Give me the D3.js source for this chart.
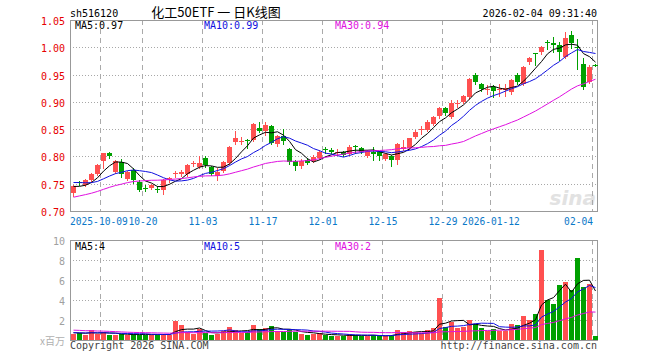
<!DOCTYPE html>
<html><head><meta charset="utf-8">
<script src="https://cdn.jsdelivr.net/npm/d3@7"></script>
<style>html,body{margin:0;padding:0;background:#fff;}svg{display:block;}</style>
</head><body><svg id="c" width="660" height="360"></svg>
<script>
// ---------- data ----------
const dates = [
"2025-09-24","2025-09-25","2025-09-26","2025-09-29","2025-09-30",
"2025-10-09","2025-10-10","2025-10-13","2025-10-14","2025-10-15","2025-10-16","2025-10-17",
"2025-10-20","2025-10-21","2025-10-22","2025-10-23","2025-10-24","2025-10-27","2025-10-28","2025-10-29","2025-10-30","2025-10-31",
"2025-11-03","2025-11-04","2025-11-05","2025-11-06","2025-11-07","2025-11-10","2025-11-11","2025-11-12","2025-11-13","2025-11-14",
"2025-11-17","2025-11-18","2025-11-19","2025-11-20","2025-11-21","2025-11-24","2025-11-25","2025-11-26","2025-11-27","2025-11-28",
"2025-12-01","2025-12-02","2025-12-03","2025-12-04","2025-12-05","2025-12-08","2025-12-09","2025-12-10","2025-12-11","2025-12-12",
"2025-12-15","2025-12-16","2025-12-17","2025-12-18","2025-12-19","2025-12-22","2025-12-23","2025-12-24","2025-12-25","2025-12-26",
"2025-12-29","2025-12-30","2025-12-31",
"2026-01-05","2026-01-06","2026-01-07","2026-01-08","2026-01-09","2026-01-12","2026-01-13","2026-01-14","2026-01-15","2026-01-16",
"2026-01-19","2026-01-20","2026-01-21","2026-01-22","2026-01-23","2026-01-26","2026-01-27","2026-01-28","2026-01-29","2026-01-30",
"2026-02-02","2026-02-03","2026-02-04"];

const openP = [0.733,0.753,0.748,0.756,0.768,0.791,0.806,0.771,0.790,0.759,
0.776,0.754,0.743,0.742,0.741,0.739,0.758,0.767,0.768,0.767,
0.786,0.781,0.798,0.780,0.764,0.773,0.788,0.826,0.827,0.830,
0.830,0.852,0.846,0.855,0.822,0.838,0.813,0.791,0.782,0.793,
0.791,0.798,0.813,0.811,0.806,0.808,0.804,0.820,0.816,0.801,
0.808,0.808,0.796,0.800,0.794,0.814,0.815,0.836,0.848,0.849,
0.860,0.874,0.888,0.872,0.896,0.899,0.908,0.949,0.933,0.921,
0.927,0.921,0.922,0.918,0.949,0.933,0.973,0.989,0.992,1.009,
1.007,1.005,0.982,1.023,1.001,0.969,0.936,0.968];

const highP = [0.748,0.755,0.758,0.770,0.786,0.807,0.808,0.793,0.795,0.773,
0.778,0.756,0.747,0.750,0.745,0.759,0.763,0.773,0.775,0.787,
0.792,0.801,0.800,0.782,0.778,0.792,0.819,0.847,0.835,0.832,
0.862,0.863,0.863,0.857,0.840,0.850,0.815,0.793,0.795,0.798,
0.802,0.811,0.818,0.815,0.814,0.810,0.821,0.821,0.818,0.812,
0.818,0.810,0.806,0.803,0.824,0.830,0.833,0.848,0.855,0.866,
0.874,0.890,0.891,0.904,0.903,0.912,0.943,0.952,0.935,0.931,
0.931,0.933,0.933,0.942,0.952,0.966,0.983,0.990,1.002,1.013,
1.018,1.009,1.028,1.030,1.016,0.981,0.967,0.970];

const lowP = [0.728,0.748,0.746,0.754,0.766,0.778,0.797,0.769,0.763,0.757,
0.752,0.736,0.736,0.740,0.735,0.731,0.754,0.763,0.765,0.765,
0.783,0.779,0.780,0.766,0.756,0.771,0.786,0.823,0.822,0.815,
0.828,0.844,0.840,0.822,0.820,0.822,0.787,0.775,0.778,0.786,
0.789,0.796,0.807,0.806,0.802,0.800,0.802,0.806,0.806,0.799,
0.794,0.794,0.793,0.783,0.787,0.812,0.813,0.834,0.842,0.847,
0.857,0.871,0.876,0.870,0.891,0.897,0.906,0.932,0.919,0.914,
0.908,0.911,0.911,0.915,0.932,0.931,0.969,0.968,0.987,0.996,
0.991,0.977,0.980,0.998,0.961,0.924,0.934,0.965];

const closeP = [0.745,0.751,0.756,0.768,0.784,0.806,0.800,0.791,0.767,0.771,
0.757,0.739,0.741,0.748,0.739,0.757,0.760,0.769,0.771,0.785,
0.788,0.788,0.784,0.768,0.772,0.790,0.817,0.834,0.829,0.828,
0.860,0.846,0.858,0.824,0.838,0.829,0.789,0.782,0.791,0.788,
0.799,0.808,0.811,0.809,0.809,0.802,0.818,0.819,0.808,0.810,
0.805,0.801,0.804,0.793,0.822,0.817,0.833,0.845,0.850,0.864,
0.872,0.888,0.879,0.897,0.898,0.910,0.941,0.936,0.923,0.924,
0.919,0.924,0.925,0.940,0.936,0.964,0.981,0.987,1.001,1.007,
1.005,0.992,1.017,1.007,0.998,0.928,0.964,0.967];

// volume, millions of shares
const volume = [0.65,0.67,0.55,1.0,0.63,0.8,0.5,0.5,0.6,0.5,
0.6,0.55,0.55,0.5,0.55,0.6,0.55,1.95,1.55,0.8,
0.6,1.1,0.7,0.5,0.65,0.9,1.3,1.0,0.7,0.8,
1.5,1.1,1.2,1.4,0.9,0.8,1.1,0.8,0.6,0.5,
0.6,0.7,0.5,0.4,0.4,0.4,0.6,0.5,0.4,0.4,
0.5,0.4,0.4,0.5,1.0,0.8,0.9,0.8,0.7,1.0,
1.2,4.2,1.3,1.8,1.2,1.3,2.0,1.6,1.2,0.9,
1.1,0.9,0.9,1.6,1.5,2.4,2.0,2.6,9.0,4.0,
3.6,5.5,5.8,5.0,8.2,5.3,5.6,0.4];

// estimated closes / volumes of the 29 sessions before the window (feed the moving averages)
const priorCloses = [0.680,0.684,0.690,0.686,0.692,0.688,0.694,0.690,0.688,0.696,
0.712,0.720,0.728,0.735,0.740,0.738,0.745,0.742,0.748,0.740,
0.752,0.760,0.765,0.762,0.758,0.750,0.746,0.742,0.742];
const priorVolumes = [1.3,1.5,1.2,1.4,1.1,1.3,1.2,1.6,1.3,1.2,
0.9,1.0,0.8,1.1,0.9,1.0,0.9,0.8,0.9,0.8,
0.8,0.7,0.7,0.75,0.7,0.8,0.7,0.75,0.75];

const priceTicks = [0.70,0.75,0.80,0.85,0.90,0.95,1.00,1.05];
const volTicks = [2,4,6,8,10];
const labelDates = ["2025-10-09","2025-10-20","2025-11-03","2025-11-17","2025-12-01","2025-12-15","2025-12-29","2026-01-12","2026-02-04"];
const labelTexts = ["2025-10-09","10-20","11-03","11-17","12-01","12-15","12-29","2026-01-12","02-04"];
const maPeriods = [5,10,30];
const maColors = ["#000000","#1010e0","#e010e0"];

// ---------- drawing ----------
const svg = d3.select("#c");
const mono = "'DejaVu Sans Mono', monospace";
const L = 70, R = 598;
const PT = 20, PB = 211, VT = 240, VB = 340;
const RED = "#ff5050", GREEN = "#00a000";

const x = d3.scaleBand().domain(dates).range([L, R]).paddingInner(0.2).paddingOuter(0.1);
const yP = d3.scaleLinear().domain([0.70, 1.05]).range([PB, PT]);
const yV = d3.scaleLinear().domain([0, 10]).range([VB, VT]);
const bx = d => Math.round(x(d));
const cx = d => Math.round(x(d)) + 2.5;

function movAvg(prior, arr, n) {
  const full = prior.concat(arr);
  return arr.map((_, i) => {
    const end = prior.length + i;
    return d3.mean(full.slice(end - n + 1, end + 1));
  });
}

// watermark
svg.append("text").attr("x", 596).attr("y", 205).attr("text-anchor", "end")
  .attr("font-family", "'DejaVu Sans', sans-serif").attr("font-style", "italic").attr("font-weight", "bold")
  .attr("font-size", 20).attr("fill", "#e2e2e2").text("sina");

// grid: horizontal dotted
svg.append("g").selectAll("line").data(priceTicks.filter(t => t > 0.70 && t < 1.05)).join("line")
  .attr("x1", L).attr("x2", 597).attr("y1", d => Math.round(yP(d)) + 0.5).attr("y2", d => Math.round(yP(d)) + 0.5)
  .attr("stroke", "#a8a8a8").attr("stroke-dasharray", "1,2");
svg.append("g").selectAll("line").data(volTicks.filter(t => t < 10)).join("line")
  .attr("x1", L).attr("x2", 597).attr("y1", d => Math.round(yV(d)) + 0.5).attr("y2", d => Math.round(yV(d)) + 0.5)
  .attr("stroke", "#a8a8a8").attr("stroke-dasharray", "1,2");

// grid: vertical dashed
[[PT, PB], [VT, VB]].forEach(([t, b]) => {
  svg.append("g").selectAll("line").data(labelDates).join("line")
    .attr("x1", d => bx(d) - 0.5).attr("x2", d => bx(d) - 0.5).attr("y1", t).attr("y2", b)
    .attr("stroke", "#aaaaaa").attr("stroke-dasharray", "5,4");
});

// frames
svg.append("rect").attr("x", L + 0.5).attr("y", PT + 0.5).attr("width", 527).attr("height", PB - PT)
  .attr("fill", "none").attr("stroke", "#999");
svg.append("rect").attr("x", L + 0.5).attr("y", VT + 0.5).attr("width", 527).attr("height", VB - VT)
  .attr("fill", "none").attr("stroke", "#999");

// candles
const idx = d3.range(dates.length);
const up = i => closeP[i] >= openP[i];
const gC = svg.append("g").attr("shape-rendering", "crispEdges");
gC.selectAll("line").data(idx).join("line")
  .attr("x1", i => cx(dates[i])).attr("x2", i => cx(dates[i]))
  .attr("y1", i => Math.round(yP(highP[i]))).attr("y2", i => Math.round(yP(lowP[i])) + 1)
  .attr("stroke", i => up(i) ? RED : GREEN);
gC.selectAll("rect").data(idx).join("rect")
  .attr("x", i => bx(dates[i])).attr("width", 5)
  .attr("y", i => Math.round(yP(Math.max(openP[i], closeP[i]))))
  .attr("height", i => Math.max(1, Math.round(yP(Math.min(openP[i], closeP[i]))) - Math.round(yP(Math.max(openP[i], closeP[i])))))
  .attr("fill", i => up(i) ? RED : GREEN);

// volume bars
const gV = svg.append("g").attr("shape-rendering", "crispEdges");
gV.selectAll("rect").data(idx).join("rect")
  .attr("x", i => bx(dates[i])).attr("width", 5)
  .attr("y", i => Math.round(yV(volume[i])))
  .attr("height", i => VB - Math.round(yV(volume[i])))
  .attr("fill", i => up(i) ? RED : GREEN);

// moving averages
maPeriods.forEach((n, k) => {
  const mp = movAvg(priorCloses, closeP, n);
  svg.append("path").datum(idx).attr("fill", "none").attr("stroke", maColors[k]).attr("stroke-width", 1)
    .attr("d", d3.line().x(i => cx(dates[i])).y(i => yP(mp[i])));
  const mv = movAvg(priorVolumes, volume, n);
  svg.append("path").datum(idx).attr("fill", "none").attr("stroke", maColors[k]).attr("stroke-width", 1)
    .attr("d", d3.line().x(i => cx(dates[i])).y(i => yV(mv[i])));
});

// texts
function txt(xp, yp, s, fill, anchor, size, fam) {
  return svg.append("text").attr("x", xp).attr("y", yp).attr("fill", fill)
    .attr("text-anchor", anchor || "start").attr("font-family", fam || mono)
    .attr("font-size", size || 10).text(s);
}
txt(70, 16.5, "sh516120", "#000");
txt(216, 17, "化工50ETF 一 日K线图", "#000", "middle", 13, "'Noto Sans CJK SC', sans-serif");
txt(597, 16.5, "2026-02-04 09:31:40", "#000", "end");

const last = closeP.length - 1;
const maTextX = [75, 204, 335];
maPeriods.forEach((n, k) => {
  const mp = movAvg(priorCloses, closeP, n);
  txt(maTextX[k], 29, "MA" + n + ":" + d3.format(".2f")(mp[last]), maColors[k]);
  const mv = movAvg(priorVolumes, volume, n);
  txt(maTextX[k], 249.5, "MA" + n + ":" + Math.floor(mv[last]), maColors[k]);
});

// price axis labels
svg.append("g").selectAll("text").data(priceTicks).join("text")
  .attr("x", 65).attr("y", d => yP(d) + 5).attr("text-anchor", "end")
  .attr("font-family", mono).attr("font-size", 10).attr("fill", "#e60000")
  .text(d => d3.format(".2f")(d));
// volume axis labels
svg.append("g").selectAll("text").data(volTicks).join("text")
  .attr("x", 65).attr("y", d => yV(d) + 4.5).attr("text-anchor", "end")
  .attr("font-family", mono).attr("font-size", 10).attr("fill", "#a0a0a0")
  .text(d => d);
txt(65, 345, "x百万", "#b0b0b0", "end", 10, "'Noto Sans CJK SC', " + mono);

// date labels (first one starts at the frame edge, last one ends at its gridline)
const nLab = labelDates.length;
svg.append("g").selectAll("text").data(labelDates).join("text")
  .attr("x", (d, i) => i === 0 ? L : bx(d))
  .attr("y", 225).attr("text-anchor", (d, i) => i === 0 ? "start" : (i === nLab - 1 ? "end" : "middle"))
  .attr("font-family", mono).attr("font-size", 9.6).attr("fill", "#0b78c8")
  .text((d, i) => labelTexts[i]);

txt(70, 349, "Copyright 2026 SINA.COM", "#444");
txt(597, 349, "http://finance.sina.com.cn", "#444", "end");
</script></body></html>
